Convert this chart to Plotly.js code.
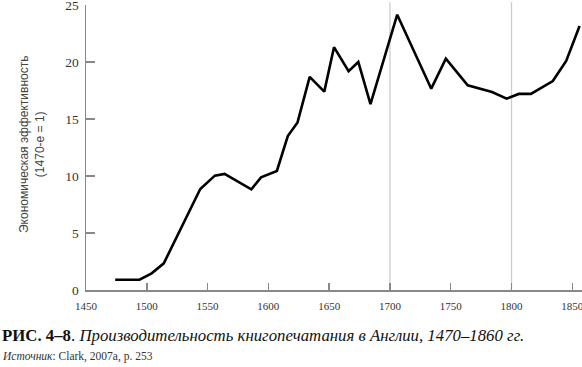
<!DOCTYPE html>
<html>
<head>
<meta charset="utf-8">
<script src="https://cdn.plot.ly/plotly-3.0.1.min.js"></script>
<style>html,body{margin:0;padding:0;background:#fff;}#chart{width:582px;height:367px;}</style>
</head>
<body>
<div id="chart"></div>
<script>
const years = [1474, 1494, 1504, 1514, 1544, 1556, 1564, 1586, 1594, 1607, 1616, 1624, 1634, 1646, 1654, 1666, 1674, 1684, 1706, 1734, 1746, 1764, 1784, 1796, 1806, 1816, 1834, 1845, 1856];
const efficiency = [0.9, 0.9, 1.46, 2.34, 8.86, 10.03, 10.18, 8.83, 9.88, 10.44, 13.5, 14.7, 18.7, 17.4, 21.3, 19.2, 20.0, 16.3, 24.15, 17.66, 20.3, 17.95, 17.37, 16.78, 17.2, 17.2, 18.33, 20.1, 23.16];
const xTicks = [1450, 1500, 1550, 1600, 1650, 1700, 1750, 1800, 1850];
const yTicks = [0, 5, 10, 15, 20, 25];
const gridYears = [1700, 1800];
const yTitle = "Экономическая эффективность<br>(1470-е = 1)";
const captionText = "<b>РИС. 4–8</b>. <i>Производительность книгопечатания в Англии, 1470–1860 гг.</i>";
const sourceText = "<i>Источник</i>: Clark, 2007a, p. 253";

const W = 582, H = 367, mL = 86, mR = 0, mT = 5, mB = 77;
const pw = W - mL - mR, ph = H - mT - mB;
const px = p => (p - mL) / pw;
const py = p => (H - mB - p) / ph;

const shapes = gridYears.map(g => ({
  type: 'line', xref: 'x', yref: 'paper', x0: g, x1: g, y0: 0, y1: 1.01,
  line: {color: '#cccccc', width: 1.3}, layer: 'below'
}));

const layout = {
  width: W, height: H,
  margin: {l: mL, r: mR, t: mT, b: mB, pad: 0},
  paper_bgcolor: '#fff', plot_bgcolor: '#fff',
  showlegend: false,
  xaxis: {
    range: [1450, 1858], tickvals: xTicks, ticktext: xTicks.map(String),
    showgrid: false, zeroline: false, showline: true, linecolor: '#888', linewidth: 1.5,
    ticks: 'inside', ticklen: 7, tickwidth: 1.5, tickcolor: '#888',
    ticklabelstandoff: 5, ticklabeloverflow: 'allow',
    tickfont: {family: 'Liberation Serif', size: 11, color: '#333'}
  },
  yaxis: {
    range: [0, 25], tickvals: yTicks, ticktext: yTicks.map(String),
    showgrid: false, zeroline: false, showline: true, linecolor: '#888', linewidth: 1.5,
    ticks: 'inside', ticklen: 9, tickwidth: 1.5, tickcolor: '#888',
    ticklabelstandoff: 3, ticklabeloverflow: 'allow',
    tickfont: {family: 'Liberation Serif', size: 13.5, color: '#333'}
  },
  shapes: shapes,
  annotations: [
    {text: yTitle, xref: 'paper', yref: 'paper', x: px(32), y: py(145), xanchor: 'center', yanchor: 'middle',
     textangle: -90, showarrow: false, font: {family: 'Liberation Sans', size: 12, color: '#444'}},
    {text: captionText, xref: 'paper', yref: 'paper', x: px(0), y: py(335), xanchor: 'left', yanchor: 'middle',
     showarrow: false, font: {family: 'Liberation Serif', size: 16.8, color: '#111'}},
    {text: sourceText, xref: 'paper', yref: 'paper', x: px(0), y: py(356), xanchor: 'left', yanchor: 'middle',
     showarrow: false, font: {family: 'Liberation Serif', size: 11.5, color: '#333'}}
  ]
};

Plotly.newPlot('chart', [{
  x: years, y: efficiency, type: 'scatter', mode: 'lines',
  line: {color: '#000', width: 2.6}, hoverinfo: 'skip'
}], layout, {staticPlot: true, displayModeBar: false});
</script>
</body>
</html>
